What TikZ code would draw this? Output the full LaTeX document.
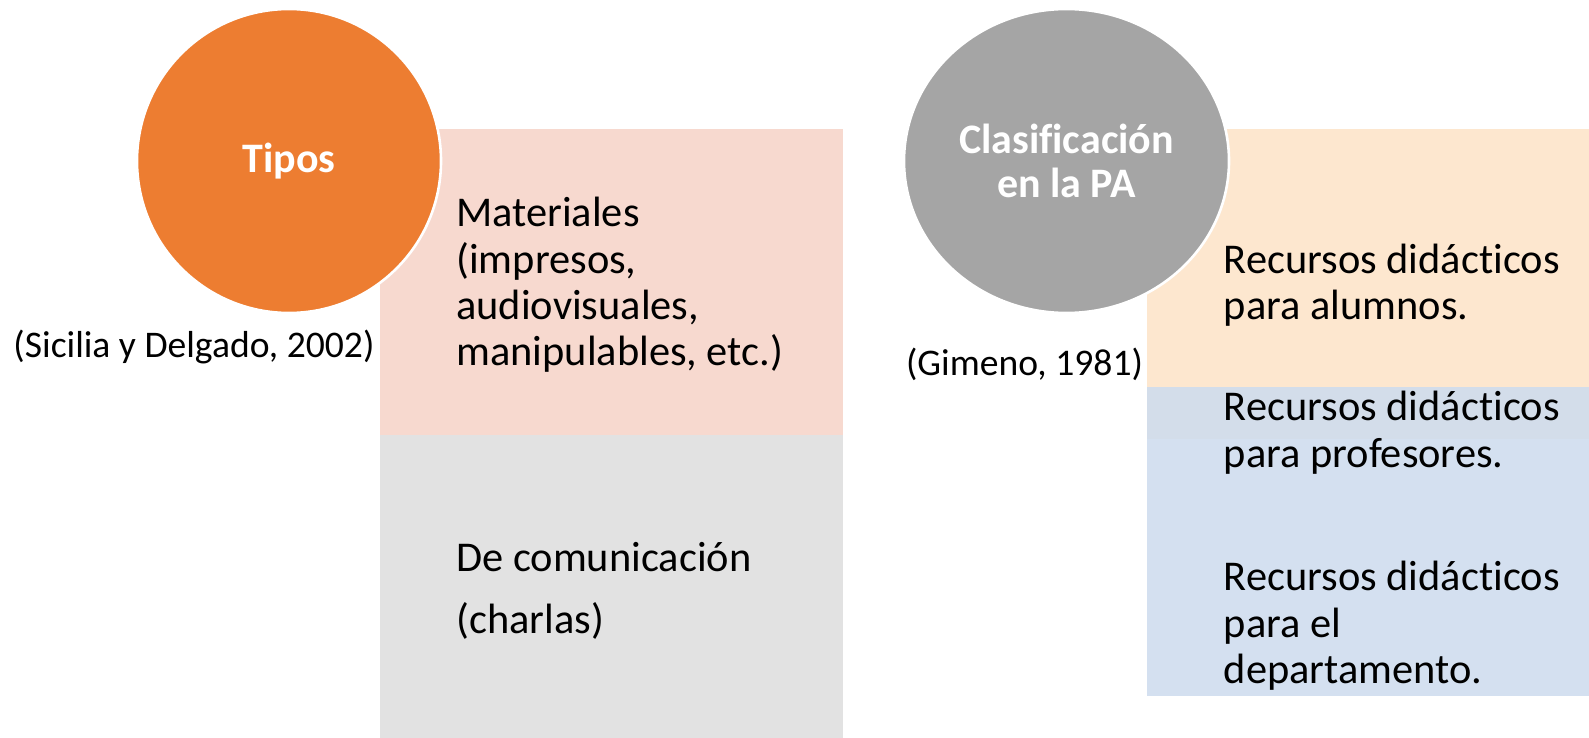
\documentclass[tikz,border=0pt]{standalone}
\usepackage{fontspec}
\setmainfont{Carlito}[Ligatures=NoCommon]
\usetikzlibrary{shapes.geometric}

\definecolor{tiposOrange}{HTML}{ED7D31}
\definecolor{clasifGrey}{HTML}{A5A5A5}
\definecolor{matPink}{HTML}{F7D9CF}
\definecolor{comGrey}{HTML}{E2E2E2}
\definecolor{alumPeach}{HTML}{FDE7CF}
\definecolor{profBlue}{RGB}{207,221,238}

\begin{document}
\begin{tikzpicture}[x=0.5pt,y=-0.5pt,
  bigtxt/.style={font=\fontsize{21.2}{23.2}\selectfont, align=left, anchor=west, inner sep=0pt},
  citetxt/.style={font=\fontsize{18.8}{22}\selectfont, anchor=base, inner sep=0pt},
  bubble/.style={fill=#1, draw=white, line width=1.3pt, text=white,
    font=\fontsize{21}{22}\selectfont\bfseries, align=center, inner sep=0pt}]
  \pgfmathsetmacro{\LeftX}{380}
  \pgfmathsetmacro{\RightX}{1147}

  \useasboundingbox (0,0) rectangle (1589,738);

  % left boxes
  \fill[matPink] (\LeftX,129) rectangle (843,435);
  \fill[comGrey] (\LeftX,435) rectangle (843,738);
  % right boxes
  \fill[alumPeach] (\RightX,129) rectangle (1589,439);
  \fill[profBlue, fill opacity=0.9] (\RightX,387) rectangle (1589,695.5);

  \node[bubble=tiposOrange, circle, minimum size=152pt] (tipos) at (289,161) {Tipos};
  \node[bubble=clasifGrey, ellipse, minimum width=162.5pt, minimum height=152pt] (clasif) at (1066.5,161) {Clasificación\\en la PA};

  \node[bigtxt] (materiales) at (456,285) {Materiales\\(impresos,\\audiovisuales,\\manipulables, etc.)};
  \node[bigtxt] (comunicacion) at (456,591) {De comunicación\\[7.5pt](charlas)};

  \node[bigtxt] (alumnos) at (1223.5,285) {Recursos didácticos\\para alumnos.};
  \node[bigtxt] (profesores) at (1223.5,432.5) {Recursos didácticos\\para profesores.};
  \node[bigtxt] (departamento) at (1223.5,626) {Recursos didácticos\\para el\\departamento.};

  \node[citetxt] (citaSicilia) at (194,357) {(Sicilia y Delgado, 2002)};
  \node[citetxt] (citaGimeno) at (1024.5,375) {(Gimeno, 1981)};
\end{tikzpicture}
\end{document}
